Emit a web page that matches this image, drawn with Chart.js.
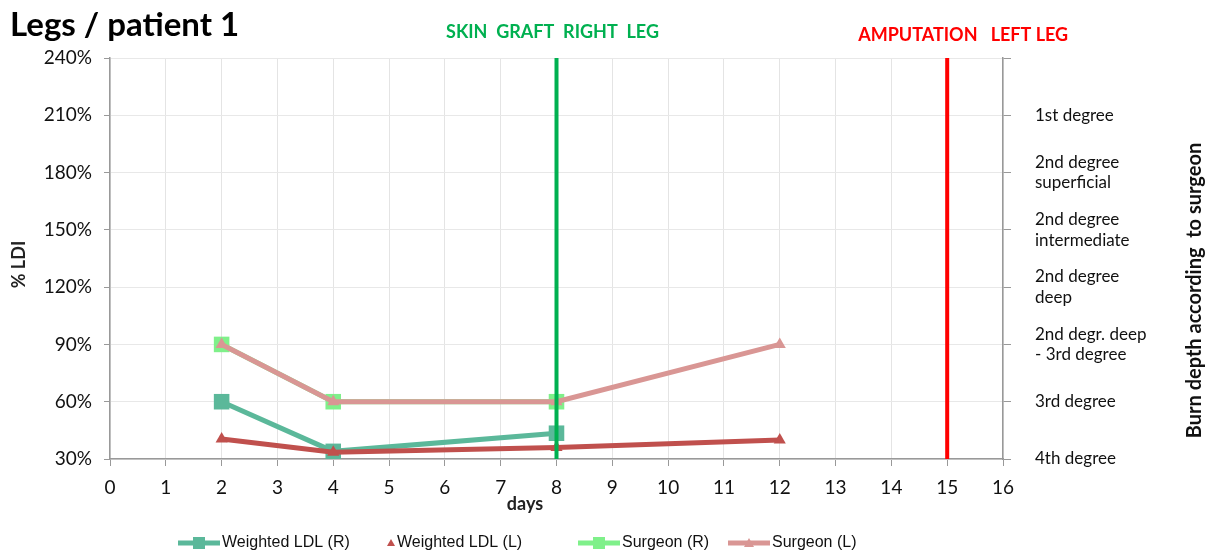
<!DOCTYPE html>
<html>
<head>
<meta charset="utf-8">
<script src="https://cdn.jsdelivr.net/npm/chart.js@4/dist/chart.umd.min.js"></script>
<style>
  html, body { margin: 0; padding: 0; background: #fff; }
  #wrap { width: 1213px; height: 555px; position: relative; }
</style>
</head>
<body>
<div id="wrap"><canvas id="chart"></canvas></div>
<script>
// values
const days = [2, 4, 8, 12];
const ldlRight = [60, 34, 43.5, null];
const ldlLeft = [40.5, 33.5, 36, 40];
const surgeonRight = [90, 60, 60, null];
const surgeonLeft = [90, 60, 60, 90];

const graftDay = 8;
const amputationDay = 15;

const xTicks = [0, 1, 2, 3, 4, 5, 6, 7, 8, 9, 10, 11, 12, 13, 14, 15, 16];
const ldiTicks = [30, 60, 90, 120, 150, 180, 210, 240];
const burnDepth = [
  '4th degree',
  '3rd degree',
  ['2nd degr. deep', '- 3rd degree'],
  ['2nd degree', 'deep'],
  ['2nd degree', 'intermediate'],
  ['2nd degree', 'superficial'],
  '1st degree',
  ''
];

const FONT = 'Lato, "Open Sans", sans-serif';

const toPoints = (vals) => days.map((d, i) => ({ x: d, y: vals[i] }));

const series = [
  { label: 'Surgeon (L)', data: toPoints(surgeonLeft), color: '#d99694', style: 'triangle', radius: 7, order: 2 },
  { label: 'Surgeon (R)', data: toPoints(surgeonRight), color: '#7ff08a', style: 'rect', radius: 11, order: 3 },
  { label: 'Weighted LDL (L)', data: toPoints(ldlLeft), color: '#c0504d', style: 'triangle', radius: 7, order: 4 },
  { label: 'Weighted LDL (R)', data: toPoints(ldlRight), color: '#5bb89a', style: 'rect', radius: 11, order: 5 },
];

const datasets = series.map(s => ({
  label: s.label,
  data: s.data,
  borderColor: s.color,
  backgroundColor: s.color,
  borderWidth: 5,
  pointStyle: s.style,
  pointRadius: s.radius,
  pointBorderWidth: 0,
  order: s.order,
  spanGaps: false,
}));

datasets.push({
  label: 'graft',
  data: [{ x: graftDay, y: 30 }, { x: graftDay, y: 240 }],
  borderColor: '#00b050',
  borderWidth: 4,
  pointRadius: 0,
  order: 0,
});
datasets.push({
  label: 'amputation',
  data: [{ x: amputationDay, y: 30 }, { x: amputationDay, y: 240 }],
  borderColor: '#ff0000',
  borderWidth: 4,
  pointRadius: 0,
  order: 1,
});

// legend order as in the picture (the second entry has only a tiny marker)
const legendOrder = ['Weighted LDL (R)', 'Weighted LDL (L)', 'Surgeon (R)', 'Surgeon (L)'];
const legendX = [178, 391, 578, 728];
const legendLine = [42, 0, 42, 42];

const extras = {
  id: 'extras',
  afterDraw(chart) {
    const ctx = chart.ctx;
    const xs = chart.scales.x;
    const area = chart.chartArea;
    ctx.save();

    // title
    ctx.fillStyle = '#000';
    ctx.font = 'bold 33px ' + FONT;
    ctx.textAlign = 'left';
    ctx.textBaseline = 'middle';
    ctx.fillText('Legs / patient 1', 10, 25);

    // event labels
    ctx.font = 'bold 18px ' + FONT;
    ctx.textAlign = 'center';
    ctx.fillStyle = '#00b050';
    ctx.fillText('SKIN  GRAFT  RIGHT  LEG', xs.getPixelForValue(graftDay) - 4, 32);
    ctx.fillStyle = '#ff0000';
    ctx.fillText('AMPUTATION   LEFT LEG', xs.getPixelForValue(amputationDay) + 16, 35);

    // axis titles
    ctx.fillStyle = '#222';
    ctx.font = 'bold 18px ' + FONT;
    ctx.fillText('days', 525, 504);

    ctx.save();
    ctx.translate(19, (area.top + area.bottom) / 2 + 6);
    ctx.rotate(-Math.PI / 2);
    ctx.fillText('% LDI', 0, 0);
    ctx.restore();

    ctx.save();
    ctx.translate(1195, (area.top + area.bottom) / 2 + 32);
    ctx.rotate(-Math.PI / 2);
    ctx.font = 'bold 20px ' + FONT;
    ctx.fillStyle = '#111';
    ctx.fillText('Burn depth according  to surgeon', 0, 0);
    ctx.restore();

    // legend
    ctx.font = '16px "Liberation Sans", Arial, sans-serif';
    ctx.textAlign = 'left';
    legendOrder.forEach((name, i) => {
      const ds = chart.data.datasets.find(d => d.label === name);
      const x0 = legendX[i];
      const len = legendLine[i];
      const y = 543;
      ctx.strokeStyle = ds.borderColor;
      ctx.fillStyle = ds.backgroundColor;
      if (len > 0) {
        ctx.lineWidth = 5;
        ctx.beginPath();
        ctx.moveTo(x0, y);
        ctx.lineTo(x0 + len, y);
        ctx.stroke();
      }
      const cx = x0 + len / 2;
      if (ds.pointStyle === 'rect') {
        ctx.fillRect(cx - 6, y - 6, 12, 12);
      } else {
        const r = len > 0 ? 5 : 4;
        ctx.beginPath();
        ctx.moveTo(cx, y - r);
        ctx.lineTo(cx + r, y + r - 1);
        ctx.lineTo(cx - r, y + r - 1);
        ctx.closePath();
        ctx.fill();
      }
      ctx.fillStyle = '#111';
      ctx.fillText(name, x0 + len + (len > 0 ? 2 : 6), y);
    });
    ctx.restore();
  }
};

new Chart(document.getElementById('chart'), {
  type: 'line',
  data: { datasets },
  plugins: [extras],
  options: {
    responsive: true,
    maintainAspectRatio: false,
    animation: false,
    layout: { padding: { top: 58, left: 0, right: 0, bottom: 0 } },
    plugins: {
      legend: { display: false },
      tooltip: { enabled: false },
      title: { display: false },
    },
    scales: {
      x: {
        type: 'linear',
        min: 0,
        max: 16,
        afterBuildTicks: (s) => { s.ticks = xTicks.map(v => ({ value: v })); },
        afterFit: (s) => { s.height = 96; },
        grid: { color: '#e4e4e4', tickColor: '#999', tickLength: 7, lineWidth: 1 },
        border: { color: '#999', width: 1.5 },
        ticks: { color: '#111', font: { family: FONT, size: 19 }, padding: 10 },
      },
      y: {
        position: 'left',
        min: 30,
        max: 240,
        afterBuildTicks: (s) => { s.ticks = ldiTicks.map(v => ({ value: v })); },
        afterFit: (s) => { s.width = 110; },
        grid: { color: '#e8e8e8', tickColor: '#999', tickLength: 6 },
        border: { color: '#999', width: 1.5 },
        ticks: {
          color: '#111',
          font: { family: FONT, size: 19 },
          padding: 12,
          callback: (v) => v + '%',
        },
      },
      y2: {
        position: 'right',
        min: 30,
        max: 240,
        afterBuildTicks: (s) => { s.ticks = ldiTicks.map(v => ({ value: v })); },
        afterFit: (s) => { s.width = 210; },
        grid: { drawOnChartArea: false, tickColor: '#999', tickLength: 8 },
        border: { color: '#999', width: 1.5 },
        ticks: {
          color: '#111',
          font: { family: FONT, size: 17 },
          padding: 24,
          callback: (v) => burnDepth[ldiTicks.indexOf(v)],
        },
      },
    },
  },
});
</script>
</body>
</html>
